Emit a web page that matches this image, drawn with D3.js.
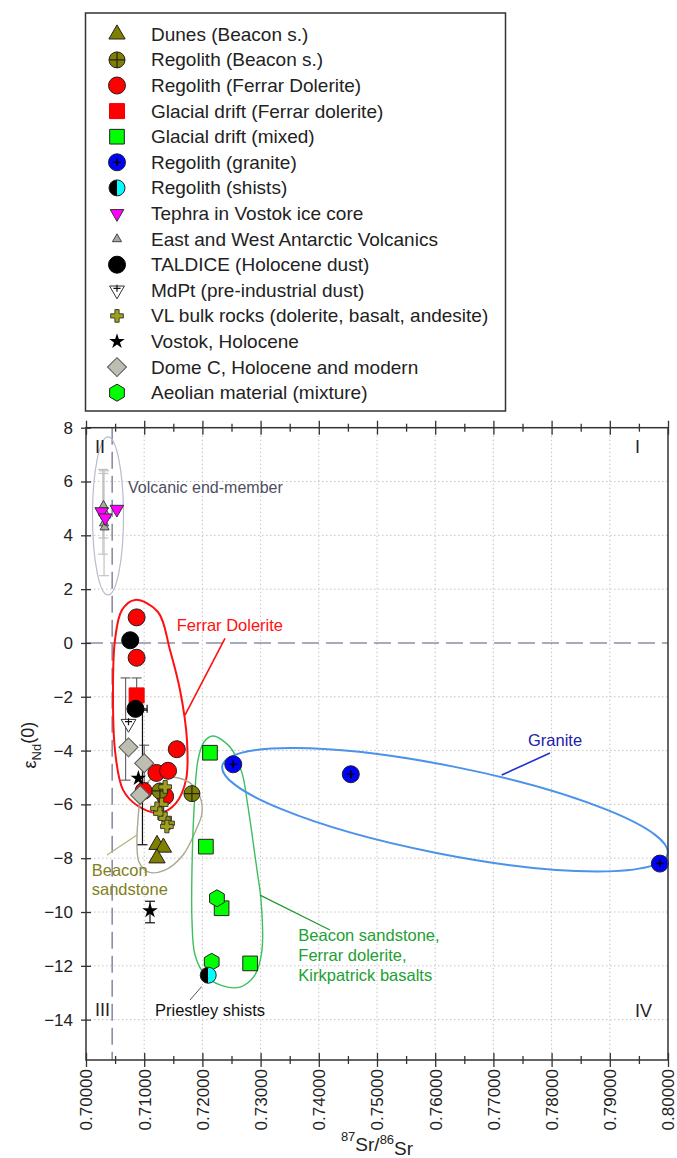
<!DOCTYPE html>
<html>
<head>
<meta charset="utf-8">
<script src="https://cdn.jsdelivr.net/npm/d3@7"></script>
<style>
  body { margin: 0; background: #fff; }
  svg { display: block; font-family: Arial, "Liberation Sans", sans-serif; }
</style>
</head>
<body>
<svg id="chart" width="677" height="1158"></svg>
<script>
// ---- data: [87Sr/86Sr, eNd(0)] ----
const dunes = [[0.7122, -7.5], [0.7133, -7.6], [0.7122, -8.0]];
const regolithBeacon = [[0.7127, -5.5], [0.7182, -5.6]];
const regolithFerrar = [[0.7087, 0.95], [0.7087, -0.55], [0.7156, -3.95], [0.7121, -4.83], [0.7141, -4.75], [0.7136, -5.7], [0.7099, -5.5]];
const glacialFerrar = [[0.7087, -1.95]];
const glacialMixed = [[0.7213, -4.08], [0.7206, -7.57], [0.7233, -9.86], [0.7282, -11.91]];
const regolithGranite = [[0.7253, -4.51], [0.7455, -4.88], [0.7986, -8.2]];
const regolithShists = [[0.7210, -12.35]];
const tephra = [[0.7027, 4.88], [0.7033, 4.65], [0.7053, 4.97]];
const volcanics = [[0.7030, 5.1], [0.7029, 4.85], [0.7035, 4.75], [0.7031, 4.45], [0.7032, 4.3]];
const taldice = [[0.7076, 0.1], [0.7085, -2.45]];
const mdpt = [[0.7073, -3.0]];
const vlBulk = [[0.7136, -5.35], [0.7130, -6.0], [0.7122, -6.15], [0.7127, -6.33], [0.7136, -6.52], [0.7141, -6.7], [0.7139, -6.82]];
const vostok = [[0.7090, -5.03], [0.7110, -9.95]];
const domeC = [[0.7073, -3.88], [0.7100, -4.47], [0.7093, -5.65]];
const aeolian = [[0.7225, -9.49], [0.7216, -11.85]];

// error bars: [x, low, high] (vertical) and [y, low, high] (horizontal)
const errVolcanic = [[0.7030, 3.9, 6.3], [0.7029, 3.3, 6.45], [0.7031, 2.5, 6.4]];
const errGrey = [[0.7068, -5.1, -1.3], [0.7087, -2.6, -1.3], [0.7100, -5.2, -3.8]];
const errBlack = [[0.7097, -7.5, -2.5], [0.7110, -10.4, -9.6]];
const errBlackH = [[-2.45, 0.7085, 0.7105]];

// axes
const xTicks = [0.70, 0.71, 0.72, 0.73, 0.74, 0.75, 0.76, 0.77, 0.78, 0.79, 0.80];
const xMinorTicks = [0.705, 0.715, 0.725, 0.735, 0.745, 0.755, 0.765, 0.775, 0.785, 0.795];
const yTicks = [8, 6, 4, 2, 0, -2, -4, -6, -8, -10, -12, -14];
const bulkEarthSr = 0.7045;

// outlines of the source fields (data units)
const ferrarField = [[0.70842, 1.60], [0.71237, 1.15], [0.71443, -0.26], [0.71615, -1.75], [0.71735, -3.61], [0.71718, -5.09],
  [0.71546, -5.95], [0.71271, -6.32], [0.70893, -6.06], [0.70636, -5.46], [0.70498, -3.98], [0.70464, -1.75], [0.70498, 0.11], [0.70619, 1.23]];
const beaconField = [[0.71100, -5.09], [0.71478, -4.98], [0.71787, -5.20], [0.71959, -5.72], [0.71993, -6.32], [0.71890, -6.95],
  [0.71667, -7.88], [0.71357, -8.44], [0.71065, -8.51], [0.70911, -8.14], [0.70876, -7.51], [0.70893, -6.58], [0.70945, -5.72]];
const mixedField = [[0.72182, -3.46], [0.72474, -3.87], [0.72680, -4.83], [0.72766, -5.84], [0.72938, -8.44], [0.73007, -9.55],
  [0.73024, -11.41], [0.72904, -12.34], [0.72646, -12.79], [0.72302, -12.71], [0.72045, -12.34], [0.71873, -11.60],
  [0.71821, -10.30], [0.71821, -8.44], [0.71856, -6.21], [0.71924, -4.35], [0.72027, -3.68]];

const legendKeys = ["dunes", "regolithBeacon", "regolithFerrar", "glacialFerrar", "glacialMixed", "granite", "shists",
  "tephra", "volcanics", "taldice", "mdpt", "vlBulk", "vostok", "domeC", "aeolian"];
const legendLabels = ["Dunes (Beacon s.)", "Regolith (Beacon s.)", "Regolith (Ferrar Dolerite)", "Glacial drift (Ferrar dolerite)",
  "Glacial drift (mixed)", "Regolith (granite)", "Regolith (shists)", "Tephra in Vostok ice core",
  "East and West Antarctic Volcanics", "TALDICE (Holocene dust)", "MdPt (pre-industrial dust)",
  "VL bulk rocks (dolerite, basalt, andesite)", "Vostok, Holocene", "Dome C, Holocene and modern", "Aeolian material (mixture)"];

// ---- setup ----
const svg = d3.select("#chart");
const plot = { left: 86, right: 668, top: 427.7, bottom: 1060 };

const x = d3.scaleLinear().domain([0.70, 0.80]).range([plot.left, plot.right]);
const y = d3.scaleLinear().domain([-15.5, 8]).range([plot.bottom, plot.top]);

const OLIVE = "#808000";
const EDGE = "#222";

// marker painters
function hexPath(r) {
  const pts = d3.range(6).map(i => {
    const a = (-90 + i * 60) * Math.PI / 180;
    return [r * Math.cos(a), r * Math.sin(a)];
  });
  return "M" + pts.join("L") + "Z";
}

const sym = {
  dunes: g => g.append("path").attr("d", d3.symbol(d3.symbolTriangle, 115)()).attr("fill", OLIVE).attr("stroke", EDGE),
  regolithBeacon: g => {
    g.append("circle").attr("r", 8).attr("fill", OLIVE).attr("stroke", EDGE);
    g.append("path").attr("d", "M-8,0H8M0,-8V8").attr("stroke", EDGE).attr("stroke-width", 1.2);
  },
  regolithFerrar: g => g.append("circle").attr("r", 8.5).attr("fill", "#ff0000").attr("stroke", EDGE),
  glacialFerrar: g => g.append("path").attr("d", d3.symbol(d3.symbolSquare, 225)()).attr("fill", "#ff0000").attr("stroke", "#ee0000"),
  glacialMixed: g => g.append("path").attr("d", d3.symbol(d3.symbolSquare, 215)()).attr("fill", "#00ff00").attr("stroke", EDGE),
  granite: g => {
    g.append("circle").attr("r", 8.5).attr("fill", "#0000ff").attr("stroke", EDGE);
    g.append("path").attr("d", "M-4,0H4M0,-4V4").attr("stroke", "#000").attr("stroke-width", 1.5);
  },
  shists: g => {
    g.append("path").attr("d", "M0,-8A8,8 0 0 0 0,8Z").attr("fill", "#000");
    g.append("path").attr("d", "M0,-8A8,8 0 0 1 0,8Z").attr("fill", "#00ffff");
    g.append("circle").attr("r", 8).attr("fill", "none").attr("stroke", EDGE);
  },
  tephra: g => g.append("path").attr("d", d3.symbol(d3.symbolTriangle, 80)()).attr("transform", "rotate(180)")
    .attr("fill", "#ff00ff").attr("stroke", "#333"),
  volcanics: g => g.append("path").attr("d", d3.symbol(d3.symbolTriangle, 36)()).attr("fill", "#a9a9a0").attr("stroke", "#444"),
  taldice: g => g.append("circle").attr("r", 8.5).attr("fill", "#000").attr("stroke", "#000"),
  mdpt: g => {
    g.append("path").attr("d", d3.symbol(d3.symbolTriangle, 95)()).attr("transform", "rotate(180)")
      .attr("fill", "#fff").attr("stroke", "#333");
    g.append("path").attr("d", "M-3.5,-2H3.5M0,-5.5V1.5").attr("stroke", "#111").attr("stroke-width", 1.2);
  },
  vlBulk: g => g.append("path").attr("d", d3.symbol(d3.symbolCross, 90)()).attr("fill", "#a0a020").attr("stroke", "#222").attr("stroke-width", 0.8),
  vostok: g => g.append("path").attr("d", d3.symbol(d3.symbolStar, 75)()).attr("fill", "#000"),
  domeC: g => g.append("path").attr("d", d3.symbol(d3.symbolSquare, 180)()).attr("transform", "rotate(45)")
    .attr("fill", "#bdbdb2").attr("stroke", "#555"),
  aeolian: g => g.append("path").attr("d", hexPath(8.5)).attr("fill", "#00ff00").attr("stroke", EDGE)
};

// ---- grid ----
const grid = svg.append("g");
grid.selectAll("line.gx")
  .data(xTicks.slice(1, -1))
  .enter().append("line")
  .attr("x1", d => x(d)).attr("x2", d => x(d))
  .attr("y1", plot.top).attr("y2", plot.bottom)
  .attr("stroke", "#c4c4c4").attr("stroke-dasharray", "1.5,2.5");
grid.selectAll("line.gy")
  .data(yTicks.filter(d => d !== 8 && d !== 0))
  .enter().append("line")
  .attr("x1", plot.left).attr("x2", plot.right)
  .attr("y1", d => y(d)).attr("y2", d => y(d))
  .attr("stroke", "#c4c4c4").attr("stroke-dasharray", "1.5,2.5");

// reference lines (bulk earth)
svg.append("line")
  .attr("x1", plot.left).attr("x2", plot.right).attr("y1", y(0)).attr("y2", y(0))
  .attr("stroke", "#8e8ea8").attr("stroke-width", 1.6).attr("stroke-dasharray", "17,7");
svg.append("line")
  .attr("x1", x(bulkEarthSr)).attr("x2", x(bulkEarthSr)).attr("y1", plot.top).attr("y2", plot.bottom)
  .attr("stroke", "#8e8ea8").attr("stroke-width", 1.6).attr("stroke-dasharray", "17,7");

// ---- source fields ----
const field = d3.line().x(d => x(d[0])).y(d => y(d[1])).curve(d3.curveCatmullRomClosed.alpha(0.5));

// volcanic end-member ellipse
svg.append("ellipse")
  .attr("cx", x(0.70378)).attr("cy", y(4.72)).attr("rx", 15.5).attr("ry", 79)
  .attr("fill", "none").attr("stroke", "#b8bccc").attr("stroke-width", 1.2);

svg.append("path").datum(ferrarField).attr("d", field)
  .attr("fill", "none").attr("stroke", "#ff1010").attr("stroke-width", 2);
svg.append("path").datum(beaconField).attr("d", field)
  .attr("fill", "none").attr("stroke", "#aaa88e").attr("stroke-width", 1.4);
svg.append("path").datum(mixedField).attr("d", field)
  .attr("fill", "none").attr("stroke", "#3cbf5c").attr("stroke-width", 1.4);

// granite ellipse
const gcx = x(0.76168), gcy = y(-6.2);
svg.append("ellipse")
  .attr("cx", gcx).attr("cy", gcy).attr("rx", 227).attr("ry", 44)
  .attr("transform", `rotate(11.2,${gcx},${gcy})`)
  .attr("fill", "none").attr("stroke", "#4a92ea").attr("stroke-width", 2);

// ---- error bars ----
function vBars(data, color, cap) {
  const g = svg.append("g").attr("stroke", color).attr("stroke-width", 1.2).attr("fill", "none");
  data.forEach(d => {
    g.append("line").attr("x1", x(d[0])).attr("x2", x(d[0])).attr("y1", y(d[1])).attr("y2", y(d[2]));
    [d[1], d[2]].forEach(v => g.append("line")
      .attr("x1", x(d[0]) - cap).attr("x2", x(d[0]) + cap).attr("y1", y(v)).attr("y2", y(v)));
  });
}
vBars(errVolcanic, "#c2c2c2", 5);
vBars(errGrey, "#666", 5);
vBars(errBlack, "#111", 5);
errBlackH.forEach(d => {
  svg.append("line").attr("x1", x(d[1])).attr("x2", x(d[2])).attr("y1", y(d[0])).attr("y2", y(d[0]))
    .attr("stroke", "#111").attr("stroke-width", 1.2);
  svg.append("line").attr("x1", x(d[2])).attr("x2", x(d[2])).attr("y1", y(d[0]) - 4).attr("y2", y(d[0]) + 4)
    .attr("stroke", "#111").attr("stroke-width", 1.2);
});

// ---- points ----
function drawSeries(data, key) {
  const g = svg.append("g");
  data.forEach(d => {
    const m = g.append("g").attr("transform", `translate(${x(d[0])},${y(d[1])})`);
    sym[key](m);
  });
}
drawSeries(volcanics, "volcanics");
drawSeries(tephra, "tephra");
drawSeries(regolithFerrar, "regolithFerrar");
drawSeries(glacialFerrar, "glacialFerrar");
drawSeries(taldice, "taldice");
drawSeries(mdpt, "mdpt");
drawSeries(domeC, "domeC");
drawSeries(vostok, "vostok");
drawSeries(regolithBeacon, "regolithBeacon");
drawSeries(vlBulk, "vlBulk");
drawSeries(dunes, "dunes");
drawSeries(glacialMixed, "glacialMixed");
drawSeries(aeolian, "aeolian");
drawSeries(regolithShists, "shists");
drawSeries(regolithGranite, "granite");

// ---- annotations ----
function leader(p1, p2, color, w) {
  svg.append("line")
    .attr("x1", x(p1[0])).attr("y1", y(p1[1])).attr("x2", x(p2[0])).attr("y2", y(p2[1]))
    .attr("stroke", color).attr("stroke-width", w);
}
function label(txt, p, color, size) {
  svg.append("text").attr("x", x(p[0])).attr("y", y(p[1]))
    .attr("dominant-baseline", "central").attr("font-size", size).attr("fill", color).text(txt);
}
leader([0.72388, 0.17], [0.71701, -2.68], "#ff1010", 1.6);
leader([0.77973, -4.09], [0.77143, -4.91], "#1f2fd0", 1.6);
leader([0.72990, -9.37], [0.74192, -10.67], "#1f9a2f", 1.3);
leader([0.70361, -7.88], [0.70876, -7.14], "#b4b27a", 1.2);
leader([0.71988, -12.77], [0.71787, -13.27], "#555", 1);

label("Volcanic end-member", [0.70722, 5.76], "#4e4e5e", 16);
label("Ferrar Dolerite", [0.71558, 0.67], "#ff1010", 16.5);
label("Granite", [0.77595, -3.61], "#2020a8", 16.5);
label("Beacon", [0.70098, -8.44], "#80801c", 16.5);
label("sandstone", [0.70098, -9.14], "#80801c", 16.5);
label("Beacon sandstone,", [0.73648, -10.85], "#22a032", 16.5);
label("Ferrar dolerite,", [0.73648, -11.60], "#22a032", 16.5);
label("Kirkpatrick basalts", [0.73648, -12.34], "#22a032", 16.5);
label("Priestley shists", [0.71186, -13.64], "#111", 16.5);
label("II", [0.70155, 7.28], "#222", 18);
label("I", [0.79433, 7.28], "#222", 18);
label("III", [0.70155, -13.64], "#222", 18);
label("IV", [0.79433, -13.68], "#222", 18);

// ---- frame and axes ----
svg.append("rect")
  .attr("x", plot.left).attr("y", plot.top)
  .attr("width", plot.right - plot.left).attr("height", plot.bottom - plot.top)
  .attr("fill", "none").attr("stroke", "#333").attr("stroke-width", 1.5);

function crossTicks(g, size) {
  g.select(".domain").remove();
  g.selectAll(".tick line").attr("stroke", "#333").attr("stroke-width", 1.3);
  g.selectAll(".tick line").attr("y1", -size).attr("y2", size);
}

const xAxisB = svg.append("g").attr("transform", `translate(0,${plot.bottom})`)
  .call(d3.axisBottom(x).tickValues(xTicks).tickSize(7).tickFormat(d3.format(".5f")));
crossTicks(xAxisB, 7);
xAxisB.selectAll(".tick text")
  .attr("transform", "rotate(-90)").attr("text-anchor", "end")
  .attr("x", -9).attr("y", 0).attr("dy", "0.35em")
  .attr("font-size", 17).attr("font-family", "Arial, 'Liberation Sans', sans-serif").attr("fill", "#222");

const xMinorB = svg.append("g").attr("transform", `translate(0,${plot.bottom})`)
  .call(d3.axisBottom(x).tickValues(xMinorTicks).tickSize(4).tickFormat(""));
crossTicks(xMinorB, 4);

const xAxisT = svg.append("g").attr("transform", `translate(0,${plot.top})`)
  .call(d3.axisTop(x).tickValues(xTicks).tickSize(7).tickFormat(""));
crossTicks(xAxisT, 7);
const xMinorT = svg.append("g").attr("transform", `translate(0,${plot.top})`)
  .call(d3.axisTop(x).tickValues(xMinorTicks).tickSize(4).tickFormat(""));
crossTicks(xMinorT, 4);

const yAxis = svg.append("g").attr("transform", `translate(${plot.left},0)`)
  .call(d3.axisLeft(y).tickValues(yTicks).tickSize(5).tickPadding(8));
yAxis.select(".domain").remove();
yAxis.selectAll(".tick line").attr("x1", 5).attr("stroke", "#333").attr("stroke-width", 1.3);
yAxis.selectAll(".tick text")
  .attr("font-size", 17).attr("font-family", "Arial, 'Liberation Sans', sans-serif").attr("fill", "#222");

// axis titles
const yTitle = svg.append("text")
  .attr("transform", `translate(36,${y(-3.8)}) rotate(-90)`)
  .attr("text-anchor", "middle").attr("font-size", 18).attr("fill", "#222");
yTitle.append("tspan").text("ε");
yTitle.append("tspan").attr("font-size", 13).attr("dy", "0.35em").text("Nd");
yTitle.append("tspan").attr("dy", "-0.35em").text("(0)");

const xTitle = svg.append("text")
  .attr("x", (plot.left + plot.right) / 2).attr("y", 1148)
  .attr("text-anchor", "middle").attr("font-size", 19).attr("fill", "#222");
xTitle.append("tspan").attr("font-size", 13).attr("dy", "-0.55em").text("87");
xTitle.append("tspan").attr("dy", "0.55em").text("Sr/");
xTitle.append("tspan").attr("font-size", 13).attr("dy", "-0.55em").text("86");
xTitle.append("tspan").attr("dy", "0.55em").text("Sr");

// ---- legend ----
const legend = svg.append("g");
legend.append("rect")
  .attr("x", 85.5).attr("y", 13).attr("width", 420).attr("height", 398)
  .attr("fill", "#fff").attr("stroke", "#333").attr("stroke-width", 1.5);
legendKeys.forEach((k, i) => {
  const cy = 34.3 + i * 25.6;
  const m = legend.append("g").attr("transform", `translate(117,${cy})`);
  sym[k](m);
  legend.append("text")
    .attr("x", 151).attr("y", cy).attr("dominant-baseline", "central")
    .attr("font-size", 19).attr("fill", "#222").text(legendLabels[i]);
});
</script>
</body>
</html>
